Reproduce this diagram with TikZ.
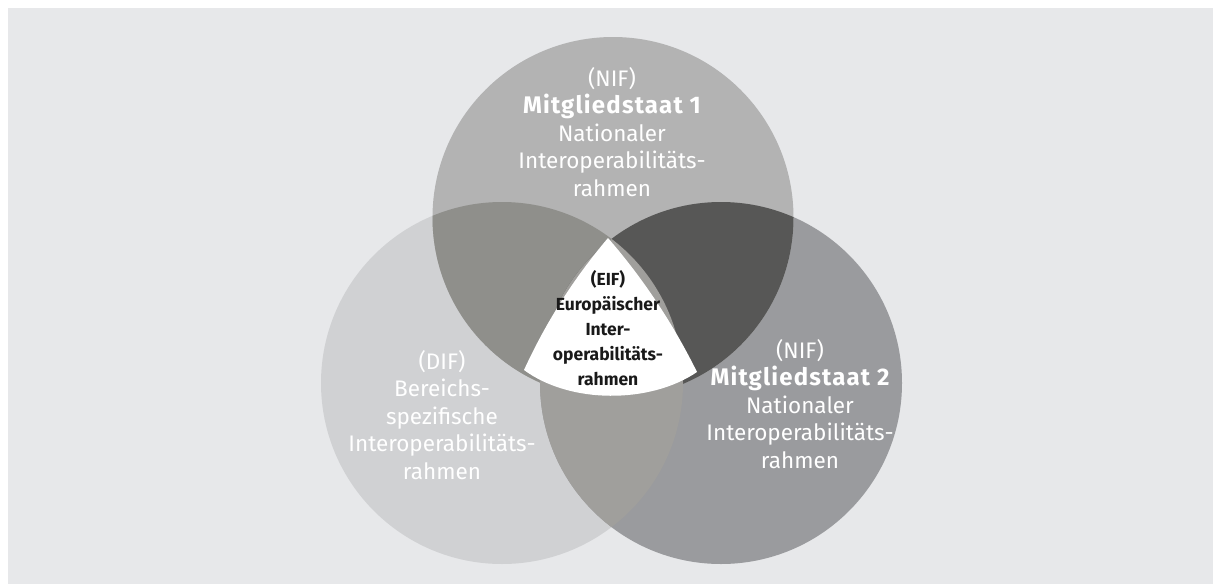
\documentclass[tikz,border=0pt]{standalone}
\usepackage{fontspec}
\setmainfont{Fira Sans}
\definecolor{bgc}{HTML}{E7E8EA}
\definecolor{ctop}{HTML}{B3B3B3}
\definecolor{cleft}{HTML}{D0D1D3}
\definecolor{cright}{HTML}{9A9B9E}
\definecolor{ctl}{HTML}{8F8F8B}
\definecolor{ctr}{HTML}{575756}
\definecolor{clr}{HTML}{A09F9C}
\newcommand{\bigbold}[1]{{\fontsize{24}{27.5}\selectfont\bfseries\addfontfeatures{LetterSpace=5}#1}}
\tikzset{
  outertext/.style={text=white, align=center, font=\fontsize{22.5}{27.5}\selectfont},
  innertext/.style={text=black!90, align=center, font=\bfseries\fontsize{17.5}{25}\selectfont},
}
\begin{document}
\begin{tikzpicture}[x=1pt,y=-1pt]
\useasboundingbox (0,0) rectangle (1213,584);
\fill[white] (0,0) rectangle (1213,584);
\fill[bgc] (8,8) rectangle (1213,584);
% circles
\def\topc{(613,217.5) circle (180.5)}
\def\leftc{(502,383) circle (181)}
\def\rightc{(721,383) circle (181)}
\fill[cleft] \leftc;
\fill[cright] \rightc;
\fill[ctop] \topc;
\begin{scope}\clip \topc; \fill[ctl] \leftc; \end{scope}
\begin{scope}\clip \topc; \fill[ctr] \rightc; \end{scope}
\begin{scope}\clip \leftc; \fill[clr] \rightc; \end{scope}
% central white shape
\fill[white] (608,238) .. controls (574,278) and (546,322) .. (524,370)
  .. controls (570,404) and (650,404) .. (697,372)
  .. controls (673,323.5) and (643.5,279) .. cycle;
% texts
\node[outertext] (mst1) at (612,132) {(NIF)\\\bigbold{Mitgliedstaat 1}\\Nationaler\\Interoperabilitäts-\\rahmen};
\node[outertext] (mst2) at (800,404) {(NIF)\\\bigbold{Mitgliedstaat 2}\\Nationaler\\Interoperabilitäts-\\rahmen};
\node[outertext] (dif) at (442,415) {(DIF)\\Bereichs-\\spezifische\\Interoperabilitäts-\\rahmen};
\node[innertext] (eif) at (608,328) {(EIF)\\Europäischer\\Inter-\\operabilitäts-\\rahmen};
\end{tikzpicture}
\end{document}
